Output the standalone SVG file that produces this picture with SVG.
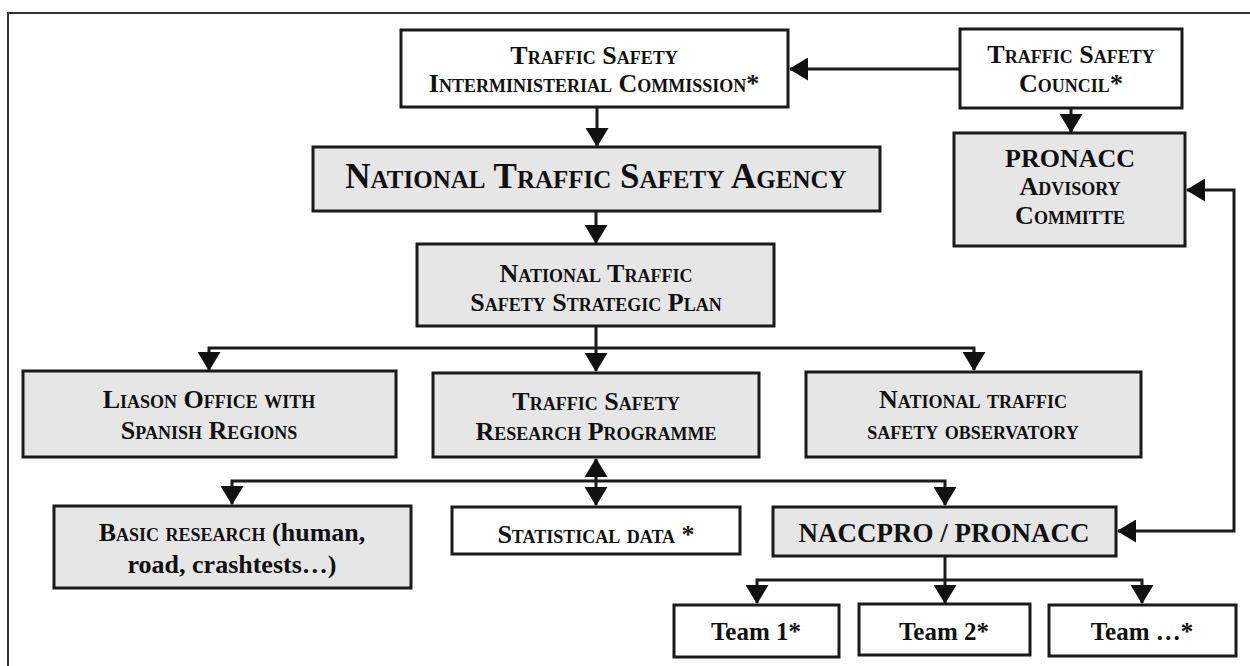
<svg xmlns="http://www.w3.org/2000/svg" width="1250" height="666" viewBox="0 0 1250 666">
<style>
.box{stroke:#1a1a1a;stroke-width:3}
.w{fill:#ffffff}
.g{fill:#e6e6e6}
.t{font-family:"Liberation Serif","Times New Roman",serif;font-weight:bold;text-anchor:middle;fill:#111;font-size:26px}
.sc{font-variant:small-caps}
.c{fill:none;stroke:#1a1a1a;stroke-width:3}
</style>
<defs>
<marker id="ah" markerUnits="userSpaceOnUse" markerWidth="19" markerHeight="23" viewBox="0 0 19 23" refX="18" refY="11.5" orient="auto-start-reverse">
<path d="M0,0 L19,11.5 L0,23 z" fill="#111"/>
</marker>
</defs>
<rect x="8" y="13" width="1260" height="700" fill="#fff" stroke="#333" stroke-width="2"/>
<g id="connectors">
<path class="c" d="M960,69 H790" marker-end="url(#ah)"/>
<path class="c" d="M597,107 V146" marker-end="url(#ah)"/>
<path class="c" d="M596,211 V243" marker-end="url(#ah)"/>
<path class="c" d="M1071,108 V132" marker-end="url(#ah)"/>
<path class="c" d="M596,326 V371" marker-end="url(#ah)"/>
<path class="c" d="M596,348 H209 V370" marker-end="url(#ah)"/>
<path class="c" d="M596,348 H974 V370" marker-end="url(#ah)"/>
<path class="c" d="M596,481 V459" marker-end="url(#ah)"/>
<path class="c" d="M596,481 V505" marker-end="url(#ah)"/>
<path class="c" d="M596,481 H232 V504" marker-end="url(#ah)"/>
<path class="c" d="M596,481 H945 V505" marker-end="url(#ah)"/>
<path class="c" d="M1187,190 H1234 V531 H1118" marker-start="url(#ah)" marker-end="url(#ah)"/>
<path class="c" d="M945,556 V603" marker-end="url(#ah)"/>
<path class="c" d="M945,580 H757 V603" marker-end="url(#ah)"/>
<path class="c" d="M945,580 H1142 V603" marker-end="url(#ah)"/>
</g>
<g id="commission">
<rect class="box w" x="401" y="30" width="387" height="77"/>
<text class="t sc" x="594" y="64">Traffic Safety</text>
<text class="t sc" x="594" y="92">Interministerial Commission*</text>
</g>
<g id="council">
<rect class="box w" x="960" y="29" width="222" height="79"/>
<text class="t sc" x="1071" y="63">Traffic Safety</text>
<text class="t sc" x="1071" y="92">Council*</text>
</g>
<g id="agency">
<rect class="box g" x="313" y="147" width="567" height="64"/>
<text class="t sc" x="596" y="188" style="font-size:35px">National Traffic Safety Agency</text>
</g>
<g id="advisory">
<rect class="box g" x="954" y="133" width="231" height="113"/>
<text class="t" x="1070" y="167">PRONACC</text>
<text class="t sc" x="1070" y="195">Advisory</text>
<text class="t sc" x="1070" y="224">Committe</text>
</g>
<g id="plan">
<rect class="box g" x="417" y="244" width="357" height="82"/>
<text class="t sc" x="596" y="282">National Traffic</text>
<text class="t sc" x="596" y="311">Safety Strategic Plan</text>
</g>
<g id="liason">
<rect class="box g" x="23" y="371" width="373" height="86"/>
<text class="t sc" x="209" y="408">Liason Office with</text>
<text class="t sc" x="209" y="439">Spanish Regions</text>
</g>
<g id="research">
<rect class="box g" x="433" y="373" width="326" height="84"/>
<text class="t sc" x="596" y="410">Traffic Safety</text>
<text class="t sc" x="596" y="440">Research Programme</text>
</g>
<g id="observatory">
<rect class="box g" x="806" y="372" width="335" height="85"/>
<text class="t sc" x="973" y="408">National traffic</text>
<text class="t sc" x="973" y="439">safety observatory</text>
</g>
<g id="basic">
<rect class="box g" x="54" y="506" width="357" height="82"/>
<text class="t" x="232" y="541"><tspan class="sc">Basic research</tspan> (human,</text>
<text class="t" x="232" y="573">road, crashtests…)</text>
</g>
<g id="statistical">
<rect class="box w" x="452" y="507" width="288" height="47"/>
<text class="t sc" x="596" y="543">Statistical data *</text>
</g>
<g id="naccpro">
<rect class="box g" x="773" y="507" width="343" height="49"/>
<text class="t" x="944" y="542" style="font-size:27px">NACCPRO / PRONACC</text>
</g>
<g id="team1">
<rect class="box w" x="674" y="605" width="165" height="52"/>
<text class="t" x="756" y="640" style="font-size:25px">Team 1*</text>
</g>
<g id="team2">
<rect class="box w" x="859" y="604" width="171" height="51"/>
<text class="t" x="944" y="640" style="font-size:25px">Team 2*</text>
</g>
<g id="team3">
<rect class="box w" x="1049" y="605" width="187" height="51"/>
<text class="t" x="1142" y="640" style="font-size:25px">Team …*</text>
</g>
</svg>
